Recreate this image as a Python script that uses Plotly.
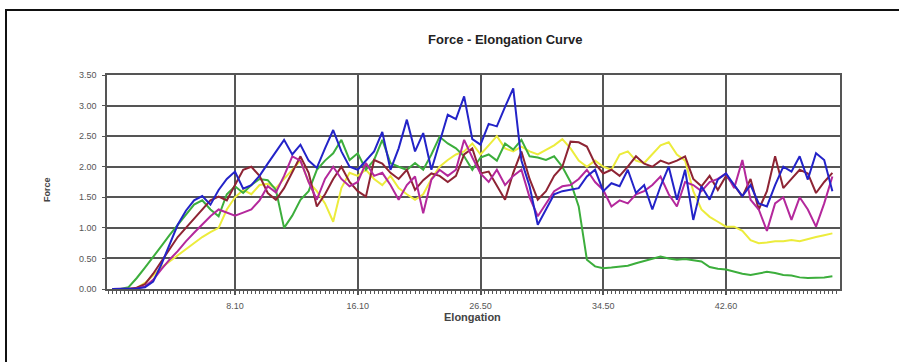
import plotly.graph_objects as go

# ---- data ----
point_index = list(range(89))
tick_positions = [15, 30, 45, 60, 75]
tick_labels = ["8.10", "16.10", "26.50", "34.50", "42.60"]
y_ticks = [0, 0.5, 1.0, 1.5, 2.0, 2.5, 3.0, 3.5]

blue = [0.00, 0.00, 0.00, 0.01, 0.03, 0.12, 0.40, 0.72, 1.05, 1.28,
        1.45, 1.52, 1.38, 1.62, 1.80, 1.92, 1.64, 1.70, 1.85, 2.05,
        2.25, 2.44, 2.20, 2.36, 2.10, 1.98, 2.30, 2.60, 2.25, 2.00,
        1.95, 2.10, 2.25, 2.57, 1.95, 2.30, 2.77, 2.25, 2.55, 1.95,
        2.38, 2.85, 2.78, 3.15, 2.45, 2.36, 2.70, 2.66, 2.98, 3.28,
        2.10, 1.68, 1.05, 1.30, 1.55, 1.60, 1.62, 1.65, 1.84, 1.95,
        1.60, 1.73, 1.68, 1.95, 1.57, 1.70, 1.30, 1.68, 2.00, 1.46,
        1.95, 1.13, 1.68, 1.46, 1.79, 1.89, 1.70, 1.52, 1.70, 1.40,
        1.35, 1.70, 2.00, 1.92, 2.17, 1.79, 2.22, 2.11, 1.60]

green = [0.00, 0.00, 0.03, 0.18, 0.35, 0.52, 0.70, 0.88, 1.05, 1.22,
         1.38, 1.45, 1.30, 1.19, 1.55, 1.68, 1.57, 1.70, 1.80, 1.78,
         1.62, 1.00, 1.20, 1.46, 1.60, 1.95, 2.10, 2.22, 2.44, 2.11,
         2.22, 1.95, 2.11, 2.44, 2.06, 2.00, 1.95, 2.06, 1.95, 2.20,
         2.49, 2.38, 2.30, 2.17, 1.95, 2.15, 2.20, 2.10, 2.38, 2.28,
         2.44, 2.17, 2.15, 2.11, 2.17, 2.00, 1.75, 1.35, 0.48, 0.37,
         0.34, 0.35, 0.36, 0.38, 0.42, 0.46, 0.50, 0.53, 0.50, 0.48,
         0.49, 0.47, 0.45, 0.36, 0.33, 0.32, 0.28, 0.25, 0.23, 0.25,
         0.28, 0.26, 0.23, 0.22, 0.19, 0.18, 0.18, 0.19, 0.21]

yellow = [0.00, 0.00, 0.00, 0.02, 0.10, 0.22, 0.35, 0.45, 0.55, 0.65,
          0.75, 0.85, 0.93, 1.00, 1.30, 1.50, 1.62, 1.55, 1.70, 1.72,
          1.65, 1.80, 1.95, 2.10, 1.75, 1.60, 1.40, 1.10, 1.65, 1.90,
          1.85, 1.95, 1.80, 1.70, 1.85, 1.65, 1.55, 1.46, 1.55, 1.80,
          2.00, 2.11, 2.20, 2.25, 2.38, 2.20, 2.35, 2.50, 2.30, 2.25,
          2.33, 2.25, 2.20, 2.28, 2.35, 2.45, 2.30, 2.10, 2.00, 2.10,
          2.00, 1.95, 2.20, 2.25, 2.10, 2.06, 2.20, 2.35, 2.40, 2.20,
          2.10, 1.60, 1.30, 1.18, 1.10, 1.02, 1.02, 0.95, 0.80, 0.75,
          0.76, 0.78, 0.78, 0.80, 0.78, 0.82, 0.85, 0.88, 0.91]

maroon = [0.00, 0.00, 0.00, 0.02, 0.08, 0.25, 0.45, 0.65, 0.85, 1.00,
          1.15, 1.30, 1.45, 1.51, 1.45, 1.70, 1.95, 2.00, 1.85, 1.57,
          1.46, 1.65, 1.90, 2.17, 1.90, 1.35, 1.55, 1.80, 2.00, 1.75,
          1.60, 1.51, 2.11, 2.05, 1.90, 1.80, 1.95, 1.62, 1.78, 1.89,
          1.85, 1.75, 1.85, 2.20, 2.30, 1.89, 1.92, 1.70, 1.46, 1.90,
          2.25, 1.80, 1.46, 1.60, 1.85, 2.00, 2.41, 2.40, 2.33, 2.05,
          1.89, 1.95, 1.85, 2.00, 2.17, 2.05, 2.00, 2.10, 2.05, 2.10,
          2.17, 1.80, 1.68, 1.85, 1.62, 1.85, 1.70, 1.51, 1.80, 1.30,
          1.60, 2.17, 1.65, 1.80, 1.95, 1.89, 1.57, 1.75, 1.90]

magenta = [0.00, 0.00, 0.00, 0.01, 0.04, 0.15, 0.32, 0.48, 0.62, 0.78,
           0.92, 1.05, 1.19, 1.30, 1.25, 1.20, 1.25, 1.30, 1.45, 1.68,
           1.58, 1.85, 2.17, 2.10, 1.75, 1.46, 1.80, 2.00, 1.80, 1.68,
           1.75, 2.06, 1.85, 1.90, 1.70, 1.46, 1.70, 1.84, 1.24, 1.79,
           1.95, 1.85, 1.95, 2.44, 2.15, 1.89, 1.75, 1.95, 1.70, 1.85,
           1.95, 1.50, 1.19, 1.40, 1.60, 1.68, 1.70, 1.80, 1.95, 1.75,
           1.62, 1.35, 1.45, 1.40, 1.55, 1.60, 1.70, 1.84, 1.55, 1.35,
           1.75, 1.70, 1.60, 1.75, 1.80, 1.89, 1.65, 2.11, 1.46, 1.30,
           0.95, 1.40, 1.50, 1.13, 1.50, 1.30, 1.02, 1.40, 1.84]

series = [
    ("Sample 3", yellow, "#ecec3c"),
    ("Sample 2", green, "#3cae3c"),
    ("Sample 4", maroon, "#8e2434"),
    ("Sample 5", magenta, "#b4289c"),
    ("Sample 1", blue, "#2323c8"),
]

fig = go.Figure()
for name, vals, col in series:
    fig.add_trace(go.Scatter(x=point_index, y=vals, mode="lines", name=name,
                             line=dict(color=col, width=2), showlegend=False))

L, R, T, B = 107, 840, 75, 289
W, H = 899, 362

def px(x):
    return (x - L) / (R - L)

def py(y):
    return (B - y) / (B - T)

grid_col = "#555555"
fig.update_layout(
    width=W, height=H,
    margin=dict(l=L, r=W - R, t=T, b=H - B),
    paper_bgcolor="white", plot_bgcolor="white",
    font=dict(family="Arial, Liberation Sans, sans-serif", color="#444444"),
    xaxis=dict(range=[-0.64, 88.93], tickmode="array", tickvals=tick_positions,
               ticktext=tick_labels, showgrid=True, gridcolor=grid_col, gridwidth=1.5,
               zeroline=False, showline=True, linecolor=grid_col, linewidth=1.5, mirror=True,
               ticks="outside", ticklen=4, tickcolor=grid_col, tickwidth=1.5,
               tickfont=dict(size=9, color="#555555"), ticklabelstandoff=3,
               minor=dict(dtick=0.5, tick0=0, ticks="outside", ticklen=3,
                          tickcolor="#555555", tickwidth=1, showgrid=False)),
    yaxis=dict(range=[0, 3.5], tickmode="array", tickvals=y_ticks,
               ticktext=[f"{v:.2f}" for v in y_ticks], showgrid=True,
               gridcolor=grid_col, gridwidth=1.5, zeroline=False, showline=True,
               linecolor=grid_col, linewidth=1.5, mirror=True, ticks="outside",
               ticklen=3, tickcolor=grid_col, ticklabelstandoff=4,
               tickfont=dict(size=9, color="#555555")),
    shapes=[dict(type="rect", xref="paper", yref="paper",
                 x0=px(6), x1=px(910), y0=py(375), y1=py(10),
                 line=dict(color="#111111", width=2), layer="below")],
    annotations=[
        dict(text="<b>Force - Elongation Curve</b>", xref="paper", yref="paper",
             x=px(505), y=py(30), showarrow=False, font=dict(size=13, color="#222222")),
        dict(text="<b>Force</b>", xref="paper", yref="paper", x=px(40), y=py(190),
             textangle=-90, showarrow=False, font=dict(size=9, color="#444444")),
        dict(text="<b>Elongation</b>", xref="paper", yref="paper", x=px(472), y=py(325),
             showarrow=False, font=dict(size=11, color="#444444")),
    ],
)

fig.write_html(
    "out.html",
    config={"displayModeBar": False},
    post_script="document.body.style.margin='0';document.body.style.overflow='hidden';",
)
